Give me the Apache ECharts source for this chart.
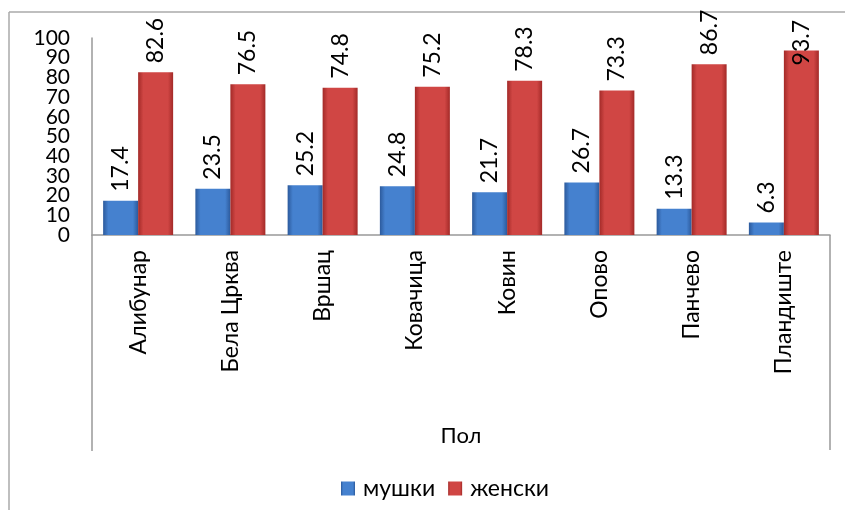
<!DOCTYPE html>
<html>
<head>
<meta charset="utf-8">
<script src="https://cdn.jsdelivr.net/npm/echarts@6/dist/echarts.min.js"></script>
<style>html,body{margin:0;padding:0;background:#fff;}#c{width:845px;height:510px;}</style>
</head>
<body>
<div id="c"></div>
<script>
const categories = ['Алибунар', 'Бела Црква', 'Вршац', 'Ковачица', 'Ковин', 'Опово', 'Панчево', 'Пландиште'];
const male = [17.4, 23.5, 25.2, 24.8, 21.7, 26.7, 13.3, 6.3];
const female = [82.6, 76.5, 74.8, 75.2, 78.3, 73.3, 86.7, 93.7];
const seriesNames = ['мушки', 'женски'];
const axisTitle = 'Пол';
const yMin = 0, yMax = 100, yStep = 10;

const FONT = 'Lato, "Noto Sans", sans-serif';
function grad(edge, mid) {
  return new echarts.graphic.LinearGradient(0, 0, 1, 0, [
    {offset: 0, color: edge}, {offset: 0.15, color: mid}, {offset: 0.85, color: mid}, {offset: 1, color: edge}
  ]);
}
const labelCfg = {
  show: true, position: 'top', rotate: 90, align: 'left', verticalAlign: 'middle',
  distance: 9, fontSize: 23, color: '#000', fontFamily: FONT,
  formatter: p => p.value.toFixed(1)
};
// labels of very tall bars are pushed down so they stay inside the chart frame (as in the source)
function withLabels(values) {
  return values.map(v => v > 90 ? {value: v, label: {distance: -15}} : v);
}
const yLabel = {fontSize: 21, fontFamily: FONT, color: '#000', margin: 22};
const chart = echarts.init(document.getElementById('c'));
chart.setOption({
  animation: false,
  grid: {left: 92, right: 15, top: 38, bottom: 275},
  legend: {
    data: seriesNames, top: 472, left: 336, itemWidth: 14, itemHeight: 14, itemGap: 13,
    icon: 'rect',
    textStyle: {fontSize: 23, fontFamily: FONT, color: '#000', padding: [0, 0, 0, 3]}
  },
  xAxis: {
    type: 'category', data: categories,
    name: axisTitle, nameLocation: 'middle', nameGap: 190,
    nameTextStyle: {fontSize: 22, fontFamily: FONT, color: '#000'},
    axisLine: {lineStyle: {color: '#999', width: 1.5}},
    axisTick: {show: false},
    axisLabel: {rotate: 90, margin: 15, fontSize: 23, fontFamily: FONT, color: '#000', interval: 0}
  },
  yAxis: [
    {
      type: 'value', min: yMin, max: yMax, interval: yStep, position: 'left',
      splitLine: {show: false},
      axisLine: {show: true, lineStyle: {color: '#999', width: 1.5}},
      axisTick: {show: false},
      axisLabel: Object.assign({showMinLabel: false, showMaxLabel: false}, yLabel)
    },
    {
      // end labels (min and max) on a companion axis with the same scale
      type: 'value', min: yMin, max: yMax, interval: yMax - yMin, position: 'left',
      splitLine: {show: false}, axisLine: {show: false}, axisTick: {show: false},
      axisLabel: Object.assign({showMinLabel: true, showMaxLabel: true}, yLabel)
    }
  ],
  series: [
    {name: seriesNames[0], type: 'bar', data: withLabels(male), barWidth: 35, barGap: '0%',
     itemStyle: {color: grad('#2c5a9c', '#4581cf')}, label: labelCfg},
    {name: seriesNames[1], type: 'bar', data: withLabels(female), barWidth: 35,
     itemStyle: {color: grad('#a32a28', '#d04644')}, label: labelCfg}
  ],
  graphic: [
    {type: 'line', shape: {x1: 9, y1: 12, x2: 845, y2: 12}, style: {stroke: '#aaa', lineWidth: 1.5}},
    {type: 'line', shape: {x1: 9, y1: 12, x2: 9, y2: 510}, style: {stroke: '#aaa', lineWidth: 1.5}},
    {type: 'line', shape: {x1: 92, y1: 235, x2: 92, y2: 451}, style: {stroke: '#999', lineWidth: 1.5}},
    {type: 'line', shape: {x1: 830, y1: 235, x2: 830, y2: 450}, style: {stroke: '#999', lineWidth: 1.5}}
  ]
});
</script>
</body>
</html>
